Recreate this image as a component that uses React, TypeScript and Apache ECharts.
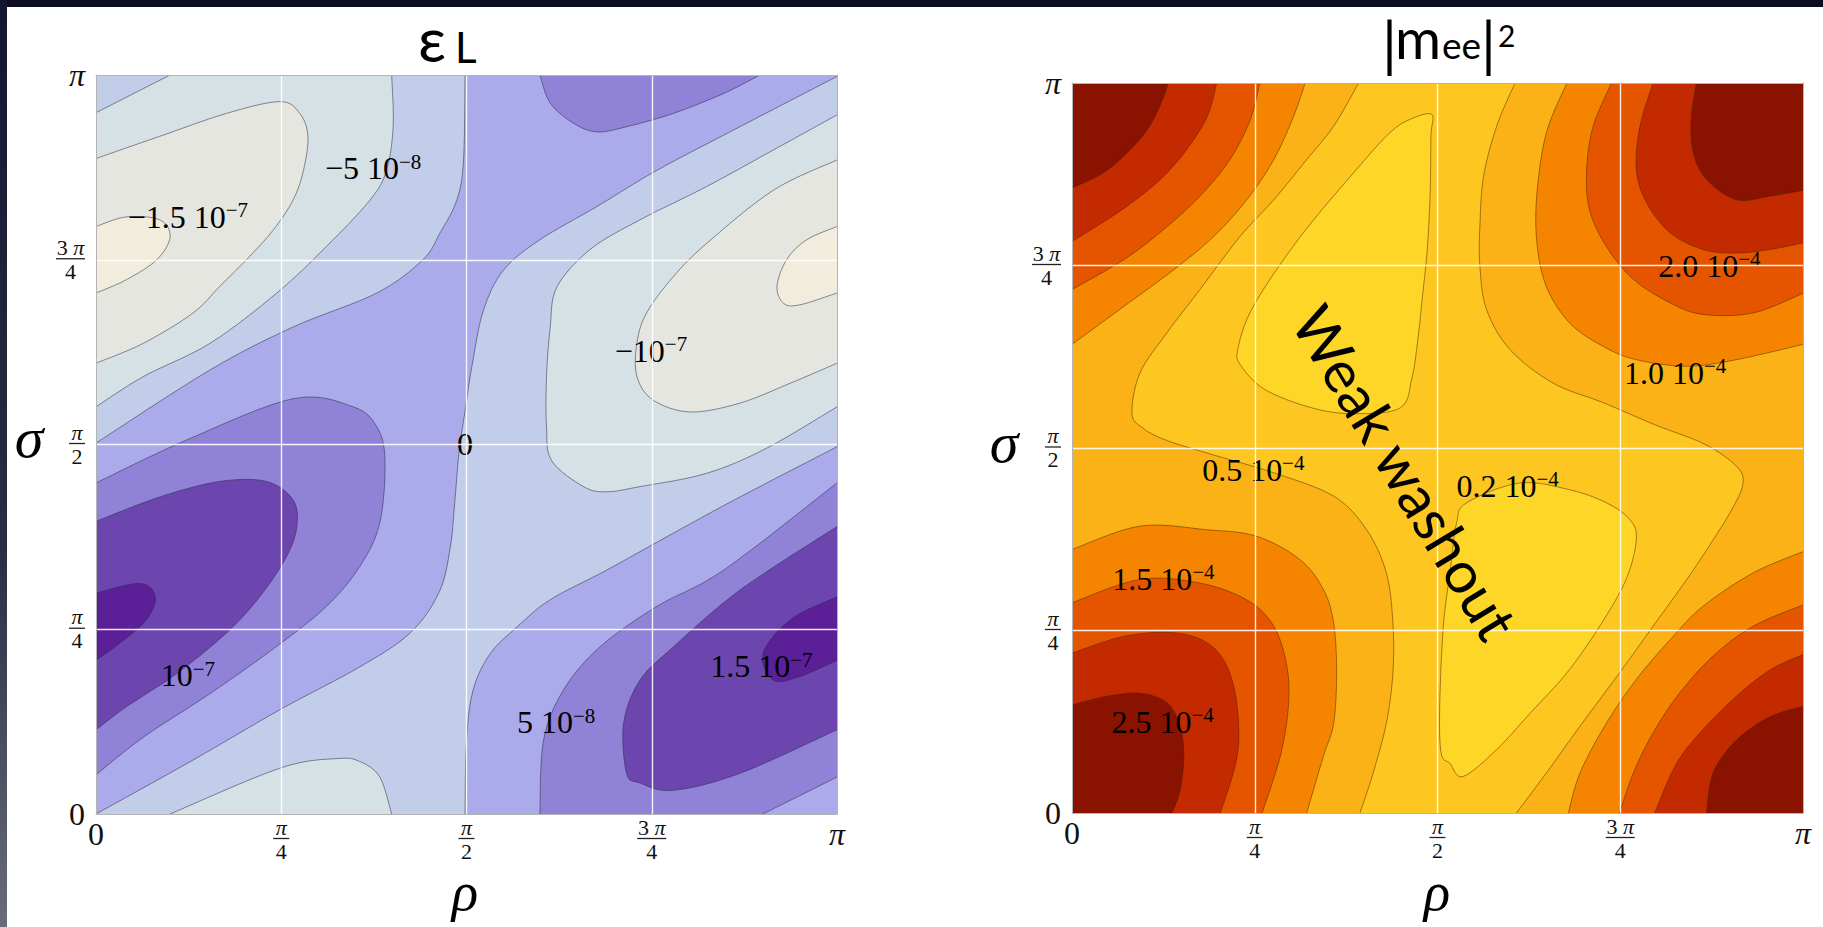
import React, { useEffect, useRef } from "react";
import * as echarts from "echarts";

type Pt = [number, number];

// ---------------- shared axis ticks (values in units of π) ----------------
const piTickValues = [0, 0.25, 0.5, 0.75, 1];
const piTickLabels = ["0", "π/4", "π/2", "3π/4", "π"];

// ---------------- ε_L contour lines, points are [ρ/π, σ/π] ----------------
const epsZeroDiag: Pt[] = [[0, 0], [0.131, 0.073], [0.248, 0.141], [0.356, 0.199], [0.424, 0.245], [0.463, 0.3], [0.478, 0.36], [0.484, 0.42], [0.49, 0.49], [0.498, 0.545], [0.508, 0.61], [0.523, 0.682], [0.55, 0.736], [0.599, 0.777], [0.676, 0.822], [0.757, 0.871], [0.869, 0.93], [1, 0.998]];
const epsZeroUpper: Pt[] = [[0.498, 1], [0.496, 0.885], [0.487, 0.831], [0.464, 0.786], [0.441, 0.75], [0.379, 0.705], [0.266, 0.659], [0.154, 0.601], [0, 0.502]];
const epsZeroLower: Pt[] = [[0.498, 0], [0.5, 0.1], [0.509, 0.168], [0.532, 0.217], [0.568, 0.253], [0.613, 0.29], [0.689, 0.33], [0.779, 0.38], [0.869, 0.429], [1, 0.497]];
const epsP5Left: Pt[] = [[0, 0.448], [0.122, 0.506], [0.266, 0.562], [0.347, 0.551], [0.379, 0.524], [0.39, 0.479], [0.383, 0.394], [0.356, 0.335], [0.311, 0.281], [0.244, 0.227], [0.154, 0.163], [0.064, 0.104], [0, 0.053]];
const epsP5RightA: Pt[] = [[1, 0.448], [0.847, 0.33], [0.757, 0.281], [0.68, 0.226], [0.631, 0.168], [0.604, 0.1], [0.599, 0]];
const epsP5RightB: Pt[] = [[0.9, 0], [1, 0.05]];
const epsP5Top: Pt[] = [[0.599, 1], [0.613, 0.962], [0.644, 0.935], [0.676, 0.923], [0.716, 0.93], [0.779, 0.948], [0.847, 0.975], [0.896, 1]];
const epsP10Left: Pt[] = [[0, 0.396], [0.086, 0.429], [0.167, 0.45], [0.23, 0.45], [0.266, 0.425], [0.271, 0.389], [0.257, 0.348], [0.221, 0.294], [0.176, 0.245], [0.109, 0.19], [0.041, 0.145], [0, 0.114]];
const epsP10Right: Pt[] = [[1, 0.389], [0.869, 0.303], [0.779, 0.226], [0.734, 0.181], [0.712, 0.123], [0.716, 0.055], [0.734, 0.042], [0.779, 0.032], [0.869, 0.055], [1, 0.114]];
const epsP15Left: Pt[] = [[0, 0.299], [0.059, 0.312], [0.08, 0.294], [0.068, 0.263], [0.032, 0.231], [0, 0.208]];
const epsP15Right: Pt[] = [[1, 0.294], [0.937, 0.263], [0.9, 0.217], [0.914, 0.181], [0.95, 0.186], [1, 0.208]];
const epsM5Corner: Pt[] = [[0, 0.949], [0.1, 1]];
const epsM5Upper: Pt[] = [[0.399, 1], [0.401, 0.93], [0.392, 0.871], [0.37, 0.831], [0.311, 0.768], [0.244, 0.705], [0.154, 0.637], [0.064, 0.592], [0, 0.551]];
const epsM5Bottom: Pt[] = [[0.1, 0], [0.248, 0.062], [0.325, 0.075], [0.356, 0.071], [0.383, 0.05], [0.399, 0]];
const epsM5Right: Pt[] = [[1, 0.946], [0.915, 0.899], [0.824, 0.849], [0.734, 0.804], [0.667, 0.764], [0.622, 0.713], [0.613, 0.659], [0.608, 0.592], [0.608, 0.524], [0.615, 0.478], [0.658, 0.443], [0.689, 0.436], [0.734, 0.443], [0.824, 0.461], [0.905, 0.495], [1, 0.551]];
const epsM10Left: Pt[] = [[0, 0.887], [0.086, 0.917], [0.176, 0.948], [0.248, 0.964], [0.275, 0.948], [0.286, 0.917], [0.28, 0.871], [0.266, 0.831], [0.239, 0.79], [0.203, 0.75], [0.167, 0.714], [0.131, 0.678], [0.064, 0.637], [0, 0.61]];
const epsM10Right: Pt[] = [[1, 0.885], [0.914, 0.844], [0.824, 0.772], [0.779, 0.727], [0.743, 0.678], [0.73, 0.637], [0.73, 0.592], [0.752, 0.56], [0.802, 0.544], [0.869, 0.556], [0.937, 0.583], [1, 0.61]];
const epsM15Left: Pt[] = [[0, 0.795], [0.041, 0.808], [0.086, 0.804], [0.1, 0.781], [0.082, 0.75], [0.041, 0.723], [0, 0.705]];
const epsM15Right: Pt[] = [[1, 0.795], [0.959, 0.777], [0.932, 0.75], [0.919, 0.714], [0.928, 0.691], [0.95, 0.689], [1, 0.705]];

// contour labels of ε_L
const epsLabelText = ["−1.5 10", "−5 10", "−10", "0", "10", "5 10", "1.5 10"];
const epsLabelExp = ["−7", "−8", "−7", "", "−7", "−8", "−7"];
const epsLabelPos: Pt[] = [[0.124, 0.808], [0.374, 0.874], [0.749, 0.627], [0.498, 0.501], [0.124, 0.188], [0.621, 0.124], [0.898, 0.2]];

// colours from highest ε (dark purple) to lowest (cream)
const epsColors = ["#5b1f97", "#6c45ae", "#8f82d7", "#abaaea", "#c1cde9", "#d6e1e6", "#e6e6e0", "#f2ecdc"];

// ---------------- |m_ee|^2 contour lines, [ρ/π, σ/π] ----------------
const meeC25TL: Pt[] = [[0.132, 1], [0.12, 0.968], [0.103, 0.936], [0.075, 0.904], [0.043, 0.877], [0, 0.856]];
const meeC20TL: Pt[] = [[0.198, 1], [0.185, 0.954], [0.157, 0.909], [0.121, 0.868], [0.075, 0.831], [0.034, 0.804], [0, 0.783]];
const meeC15TL: Pt[] = [[0.257, 1], [0.244, 0.95], [0.216, 0.895], [0.175, 0.845], [0.125, 0.799], [0.071, 0.758], [0, 0.717]];
const meeC10TL: Pt[] = [[0.319, 1], [0.303, 0.954], [0.276, 0.895], [0.239, 0.84], [0.194, 0.79], [0.139, 0.744], [0.071, 0.694], [0, 0.642]];
const meeC25BL: Pt[] = [[0, 0.148], [0.048, 0.16], [0.093, 0.164], [0.13, 0.151], [0.148, 0.119], [0.153, 0.078], [0.148, 0.032], [0.137, 0]];
const meeC20BL: Pt[] = [[0, 0.219], [0.071, 0.242], [0.139, 0.247], [0.185, 0.233], [0.212, 0.201], [0.226, 0.146], [0.226, 0.078], [0.203, 0]];
const meeC15BL: Pt[] = [[0, 0.288], [0.093, 0.32], [0.175, 0.315], [0.239, 0.292], [0.276, 0.256], [0.294, 0.201], [0.296, 0.146], [0.285, 0.078], [0.26, 0]];
const meeC10BL: Pt[] = [[0, 0.361], [0.093, 0.393], [0.185, 0.388], [0.253, 0.379], [0.312, 0.347], [0.344, 0.306], [0.358, 0.26], [0.362, 0.192], [0.358, 0.123], [0.344, 0.078], [0.321, 0]];
const meeC25TR: Pt[] = [[0.854, 1], [0.847, 0.95], [0.85, 0.904], [0.868, 0.868], [0.909, 0.84], [0.955, 0.845], [1, 0.853]];
const meeC20TR: Pt[] = [[0.795, 1], [0.777, 0.941], [0.772, 0.881], [0.786, 0.836], [0.818, 0.795], [0.863, 0.772], [0.909, 0.767], [0.955, 0.772], [1, 0.781]];
const meeC15TR: Pt[] = [[0.738, 1], [0.713, 0.941], [0.704, 0.881], [0.708, 0.826], [0.731, 0.776], [0.768, 0.731], [0.818, 0.699], [0.863, 0.683], [0.932, 0.685], [1, 0.712]];
const meeC10TR: Pt[] = [[0.677, 1], [0.649, 0.932], [0.636, 0.849], [0.636, 0.781], [0.649, 0.721], [0.681, 0.671], [0.727, 0.639], [0.772, 0.621], [0.841, 0.612], [0.909, 0.621], [1, 0.642]];
const meeC10BR: Pt[] = [[1, 0.358], [0.932, 0.329], [0.863, 0.283], [0.818, 0.237], [0.772, 0.183], [0.731, 0.123], [0.695, 0.055], [0.679, 0]];
const meeC15BR: Pt[] = [[1, 0.285], [0.932, 0.256], [0.877, 0.215], [0.831, 0.164], [0.795, 0.11], [0.768, 0.055], [0.749, 0]];
const meeC20BR: Pt[] = [[1, 0.217], [0.955, 0.196], [0.909, 0.16], [0.863, 0.114], [0.827, 0.068], [0.797, 0]];
const meeC25BR: Pt[] = [[1, 0.146], [0.955, 0.132], [0.909, 0.1], [0.877, 0.055], [0.868, 0]];
const meeC05Left: Pt[] = [[0.392, 1], [0.358, 0.941], [0.321, 0.895], [0.276, 0.84], [0.23, 0.79], [0.175, 0.717], [0.13, 0.658], [0.093, 0.603], [0.082, 0.548], [0.096, 0.528], [0.128, 0.511], [0.185, 0.493], [0.276, 0.466], [0.358, 0.434], [0.403, 0.388], [0.43, 0.329], [0.439, 0.26], [0.439, 0.192], [0.43, 0.123], [0.412, 0.055], [0.394, 0]];
const meeC05Right: Pt[] = [[0.606, 1], [0.581, 0.941], [0.563, 0.872], [0.558, 0.804], [0.558, 0.749], [0.567, 0.69], [0.599, 0.635], [0.658, 0.589], [0.727, 0.562], [0.797, 0.532], [0.866, 0.505], [0.909, 0.475], [0.918, 0.452], [0.905, 0.42], [0.877, 0.374], [0.841, 0.32], [0.795, 0.256], [0.749, 0.192], [0.695, 0.119], [0.649, 0.055], [0.608, 0]];
const meeC02Upper: Pt[] = [[0.462, 0.95], [0.492, 0.957], [0.491, 0.927], [0.49, 0.85], [0.486, 0.772], [0.48, 0.713], [0.473, 0.648], [0.465, 0.596], [0.449, 0.555], [0.385, 0.547], [0.328, 0.555], [0.264, 0.58], [0.231, 0.613], [0.227, 0.636], [0.248, 0.694], [0.312, 0.789], [0.393, 0.886], [0.435, 0.932]];
const meeC02Lower: Pt[] = [[0.54, 0.425], [0.612, 0.452], [0.68, 0.443], [0.731, 0.425], [0.763, 0.402], [0.772, 0.375], [0.758, 0.32], [0.722, 0.256], [0.677, 0.192], [0.627, 0.137], [0.581, 0.087], [0.535, 0.05], [0.517, 0.068], [0.505, 0.082], [0.503, 0.146], [0.508, 0.256], [0.517, 0.329], [0.526, 0.397]];

const meeLabelText = ["2.0 10", "1.0 10", "0.5 10", "0.2 10", "1.5 10", "2.5 10"];
const meeLabelExp = ["−4", "−4", "−4", "−4", "−4", "−4"];
const meeLabelPos: Pt[] = [[0.872, 0.75], [0.825, 0.603], [0.248, 0.47], [0.596, 0.448], [0.125, 0.321], [0.124, 0.125]];

// colours from highest |m_ee|^2 (dark red) to lowest (yellow)
const meeColors = ["#8a1200", "#c42a00", "#e55500", "#f58500", "#fbb216", "#fdc621", "#fed627"];

// ---------------- helpers ----------------
type Part = { c?: Pt[]; e?: Pt[]; loop?: boolean };
type Region = { level: number; parts: Part[] };
const rev = (a: Pt[]): Pt[] => a.slice().reverse();
const whole: Pt[] = [[0, 0], [1, 0], [1, 1], [0, 1]];

const epsRegions: Region[] = [
  { level: 4, parts: [{ e: whole }] },
  { level: 3, parts: [{ c: epsZeroDiag }, { e: [[1, 1]] }, { c: epsZeroUpper }] },
  { level: 3, parts: [{ c: epsZeroLower }, { e: [[1, 0]] }] },
  { level: 2, parts: [{ c: epsP5Left }] },
  { level: 2, parts: [{ c: epsP5RightA }, { c: epsP5RightB }] },
  { level: 2, parts: [{ c: epsP5Top }] },
  { level: 1, parts: [{ c: epsP10Left }] },
  { level: 1, parts: [{ c: epsP10Right }] },
  { level: 0, parts: [{ c: epsP15Left }] },
  { level: 0, parts: [{ c: epsP15Right }] },
  { level: 5, parts: [{ c: epsM5Corner }, { c: epsM5Upper }] },
  { level: 5, parts: [{ c: epsM5Bottom }] },
  { level: 5, parts: [{ c: epsM5Right }] },
  { level: 6, parts: [{ c: epsM10Left }] },
  { level: 6, parts: [{ c: epsM10Right }] },
  { level: 7, parts: [{ c: epsM15Left }] },
  { level: 7, parts: [{ c: epsM15Right }] },
];

const meeRegions: Region[] = [
  { level: 4, parts: [{ e: whole }] },
  { level: 3, parts: [{ c: meeC10TL }, { e: [[0, 1]] }] },
  { level: 2, parts: [{ c: meeC15TL }, { e: [[0, 1]] }] },
  { level: 1, parts: [{ c: meeC20TL }, { e: [[0, 1]] }] },
  { level: 0, parts: [{ c: meeC25TL }, { e: [[0, 1]] }] },
  { level: 3, parts: [{ c: meeC10BL }, { e: [[0, 0]] }] },
  { level: 2, parts: [{ c: meeC15BL }, { e: [[0, 0]] }] },
  { level: 1, parts: [{ c: meeC20BL }, { e: [[0, 0]] }] },
  { level: 0, parts: [{ c: meeC25BL }, { e: [[0, 0]] }] },
  { level: 3, parts: [{ c: meeC10TR }, { e: [[1, 1]] }] },
  { level: 2, parts: [{ c: meeC15TR }, { e: [[1, 1]] }] },
  { level: 1, parts: [{ c: meeC20TR }, { e: [[1, 1]] }] },
  { level: 0, parts: [{ c: meeC25TR }, { e: [[1, 1]] }] },
  { level: 3, parts: [{ c: meeC10BR }, { e: [[1, 0]] }] },
  { level: 2, parts: [{ c: meeC15BR }, { e: [[1, 0]] }] },
  { level: 1, parts: [{ c: meeC20BR }, { e: [[1, 0]] }] },
  { level: 0, parts: [{ c: meeC25BR }, { e: [[1, 0]] }] },
  { level: 5, parts: [{ c: meeC05Left }, { c: rev(meeC05Right) }] },
  { level: 6, parts: [{ c: meeC02Upper, loop: true }] },
  { level: 6, parts: [{ c: meeC02Lower, loop: true }] },
];

// Catmull-Rom curve through the read points (drawing only, like smooth: true)
function smoothPx(pts: number[][], closed: boolean, steps = 8): number[][] {
  const n = pts.length;
  if (n < 3) return pts;
  const get = (i: number) => (closed ? pts[(i + n) % n] : pts[Math.max(0, Math.min(n - 1, i))]);
  const segs = closed ? n : n - 1;
  const out: number[][] = [];
  for (let i = 0; i < segs; i++) {
    const p0 = get(i - 1), p1 = get(i), p2 = get(i + 1), p3 = get(i + 2);
    for (let s = 0; s < steps; s++) {
      const t = s / steps, t2 = t * t, t3 = t2 * t;
      out.push([0, 1].map((k) =>
        0.5 * (2 * p1[k] + (-p0[k] + p2[k]) * t + (2 * p0[k] - 5 * p1[k] + 4 * p2[k] - p3[k]) * t2 + (-p0[k] + 3 * p1[k] - 3 * p2[k] + p3[k]) * t3)
      ));
    }
  }
  out.push(closed ? pts[0] : pts[n - 1]);
  return out;
}

function regionRenderer(regions: Region[], colors: string[], lineColor: string) {
  return (_params: any, api: any) => {
    const r = regions[api.value(2)];
    let poly: number[][] = [];
    const strokes: any[] = [];
    for (const part of r.parts) {
      if (part.e) {
        poly = poly.concat(part.e.map((p) => api.coord(p)));
      } else if (part.c) {
        const px = smoothPx(part.c.map((p) => api.coord(p)), !!part.loop);
        poly = poly.concat(px);
        strokes.push({
          type: "polyline",
          shape: { points: px },
          style: { stroke: lineColor, lineWidth: 0.9, fill: "none" },
          silent: true,
        });
      }
    }
    return {
      type: "group",
      children: [{ type: "polygon", shape: { points: poly }, style: { fill: colors[r.level], lineWidth: 0 }, silent: true }, ...strokes],
    };
  };
}

const serif = "'Liberation Serif', 'Times New Roman', serif";
const sans = "Lato, 'Noto Sans', 'DejaVu Sans', sans-serif";

const contourLabelRich = {
  m: { fontFamily: serif, fontSize: 32, lineHeight: 34, color: "#111" },
  s: { fontFamily: serif, fontSize: 21, lineHeight: 14, verticalAlign: "top", color: "#111" },
};

function labelRenderer(texts: string[], exps: string[]) {
  return (_params: any, api: any) => {
    const i = api.value(2);
    const [x, y] = api.coord([api.value(0), api.value(1)]);
    const txt = exps[i] ? `{m|${texts[i]}}{s|${exps[i]}}` : `{m|${texts[i]}}`;
    return {
      type: "text",
      x,
      y,
      silent: true,
      style: { text: txt, rich: contourLabelRich, align: "center", verticalAlign: "middle" },
    };
  };
}

function tickText(v: number): string {
  const i = piTickValues.findIndex((t) => Math.abs(t - v) < 1e-6);
  if (i < 0) return "";
  const s = piTickLabels[i];
  if (!s.includes("/")) return s === "π" ? "{bi|π}" : `{b|${s}}`;
  const [num, den] = s.split("/");
  const numRich = num.length > 1 ? `{n|${num.slice(0, -1)} }{ni|π}` : "{ni|π}";
  return `${numRich}\n{${num.length > 1 ? "bar3" : "bar1"}| }\n{d|${den}}`;
}

const tickRich = {
  b: { fontFamily: serif, fontSize: 32, lineHeight: 32, color: "#111" },
  bi: { fontFamily: serif, fontStyle: "italic", fontSize: 32, lineHeight: 32, color: "#111" },
  n: { fontFamily: serif, fontSize: 22, lineHeight: 18, align: "center", color: "#111" },
  ni: { fontFamily: serif, fontStyle: "italic", fontSize: 22, lineHeight: 18, align: "center", color: "#111" },
  bar1: { width: 16, height: 1.3, lineHeight: 5, fontSize: 2, backgroundColor: "#222", align: "center" },
  bar3: { width: 29, height: 1.3, lineHeight: 5, fontSize: 2, backgroundColor: "#222", align: "center" },
  d: { fontFamily: serif, fontSize: 22, lineHeight: 20, align: "center", color: "#111" },
};

const frameColor = "#b4b4b4";

function mkAxis(gridIndex: number, position: string, main: boolean, isX: boolean) {
  return {
    type: "value",
    gridIndex,
    position,
    min: 0,
    max: 1,
    interval: 0.25,
    z: 10,
    axisLine: { show: true, onZero: false, lineStyle: { color: frameColor, width: 1 } },
    axisTick: { show: false },
    axisLabel: main
      ? { show: true, margin: isX ? 4 : 11, formatter: tickText, rich: tickRich }
      : { show: false },
    splitLine: main
      ? { show: true, showMinLine: false, showMaxLine: false, lineStyle: { color: "rgba(255,255,255,0.9)", width: 1.4 } }
      : { show: false },
  };
}

function gtext(text: string, x: number, y: number, fontSize: number, family: string, extra: any = {}, styleExtra: any = {}) {
  return {
    type: "text",
    x,
    y,
    z: 100,
    ...extra,
    style: {
      text,
      fontSize,
      fontFamily: family,
      fill: "#000",
      align: "center",
      verticalAlign: "middle",
      ...styleExtra,
    },
  };
}

function buildOption() {
  return {
    animation: false,
    backgroundColor: "#ffffff",
    grid: [
      { left: 96, top: 75, width: 741, height: 739 },
      { left: 1072, top: 83, width: 731, height: 730 },
    ],
    xAxis: [mkAxis(0, "bottom", true, true), mkAxis(0, "top", false, true), mkAxis(1, "bottom", true, true), mkAxis(1, "top", false, true)],
    yAxis: [mkAxis(0, "left", true, false), mkAxis(0, "right", false, false), mkAxis(1, "left", true, false), mkAxis(1, "right", false, false)],
    series: [
      {
        type: "custom",
        name: "εL",
        xAxisIndex: 0,
        yAxisIndex: 0,
        clip: true,
        silent: true,
        z: 2,
        renderItem: regionRenderer(epsRegions, epsColors, "rgba(45,45,70,0.6)"),
        data: epsRegions.map((_, i) => [0.5, 0.5, i]),
        encode: { x: 0, y: 1 },
      },
      {
        type: "custom",
        name: "εL labels",
        xAxisIndex: 0,
        yAxisIndex: 0,
        silent: true,
        z: 3,
        renderItem: labelRenderer(epsLabelText, epsLabelExp),
        data: epsLabelPos.map((p, i) => [p[0], p[1], i]),
        encode: { x: 0, y: 1 },
      },
      {
        type: "custom",
        name: "|mee|2",
        xAxisIndex: 2,
        yAxisIndex: 2,
        clip: true,
        silent: true,
        z: 2,
        renderItem: regionRenderer(meeRegions, meeColors, "rgba(70,35,0,0.55)"),
        data: meeRegions.map((_, i) => [0.5, 0.5, i]),
        encode: { x: 0, y: 1 },
      },
      {
        type: "custom",
        name: "|mee|2 labels",
        xAxisIndex: 2,
        yAxisIndex: 2,
        silent: true,
        z: 3,
        renderItem: labelRenderer(meeLabelText, meeLabelExp),
        data: meeLabelPos.map((p, i) => [p[0], p[1], i]),
        encode: { x: 0, y: 1 },
      },
    ],
    graphic: [
      { type: "rect", z: 100, shape: { x: 0, y: 0, width: 1823, height: 7 }, style: { fill: "#0c0c22" } },
      {
        type: "rect",
        z: 100,
        shape: { x: 0, y: 0, width: 7, height: 927 },
        style: {
          fill: new echarts.graphic.LinearGradient(0, 0, 0, 1, [
            { offset: 0, color: "#121630" },
            { offset: 0.6, color: "#2a2d45" },
            { offset: 1, color: "#6a6c7a" },
          ]),
        },
      },
      // titles
      gtext("ε", 432, 38, 62, sans, {}, { lineHeight: 40 }),
      gtext("L", 455, 47, 42, sans, {}, { align: "left" }),
      gtext("|", 1382, 43, 60, sans, {}, { align: "left", lineHeight: 50 }),
      gtext("m", 1395, 37, 56, sans, {}, { align: "left", lineHeight: 44 }),
      gtext("ee", 1442, 44, 37, sans, {}, { align: "left" }),
      gtext("|", 1481, 43, 60, sans, {}, { align: "left", lineHeight: 50 }),
      gtext("2", 1498, 35, 30, sans, {}, { align: "left" }),
      // axis names
      gtext("σ", 29, 437, 58, serif, {}, { fontStyle: "italic" }),
      gtext("ρ", 465, 891, 55, serif, {}, { fontStyle: "italic" }),
      gtext("σ", 1004, 442, 58, serif, {}, { fontStyle: "italic" }),
      gtext("ρ", 1437, 891, 55, serif, {}, { fontStyle: "italic" }),
      // annotation
      gtext("Weak washout", 1406, 472, 58, sans, { rotation: (-58.9 * Math.PI) / 180 }),
    ],
  };
}

export default function App() {
  const ref = useRef<HTMLDivElement>(null);
  useEffect(() => {
    if (!ref.current) return;
    const chart = echarts.init(ref.current, undefined, { renderer: "svg" });
    chart.setOption(buildOption() as any);
    return () => chart.dispose();
  }, []);
  return (
    <div
      ref={ref}
      style={{ position: "fixed", left: 0, top: 0, width: "1823px", height: "927px", background: "#fff" }}
    />
  );
}
